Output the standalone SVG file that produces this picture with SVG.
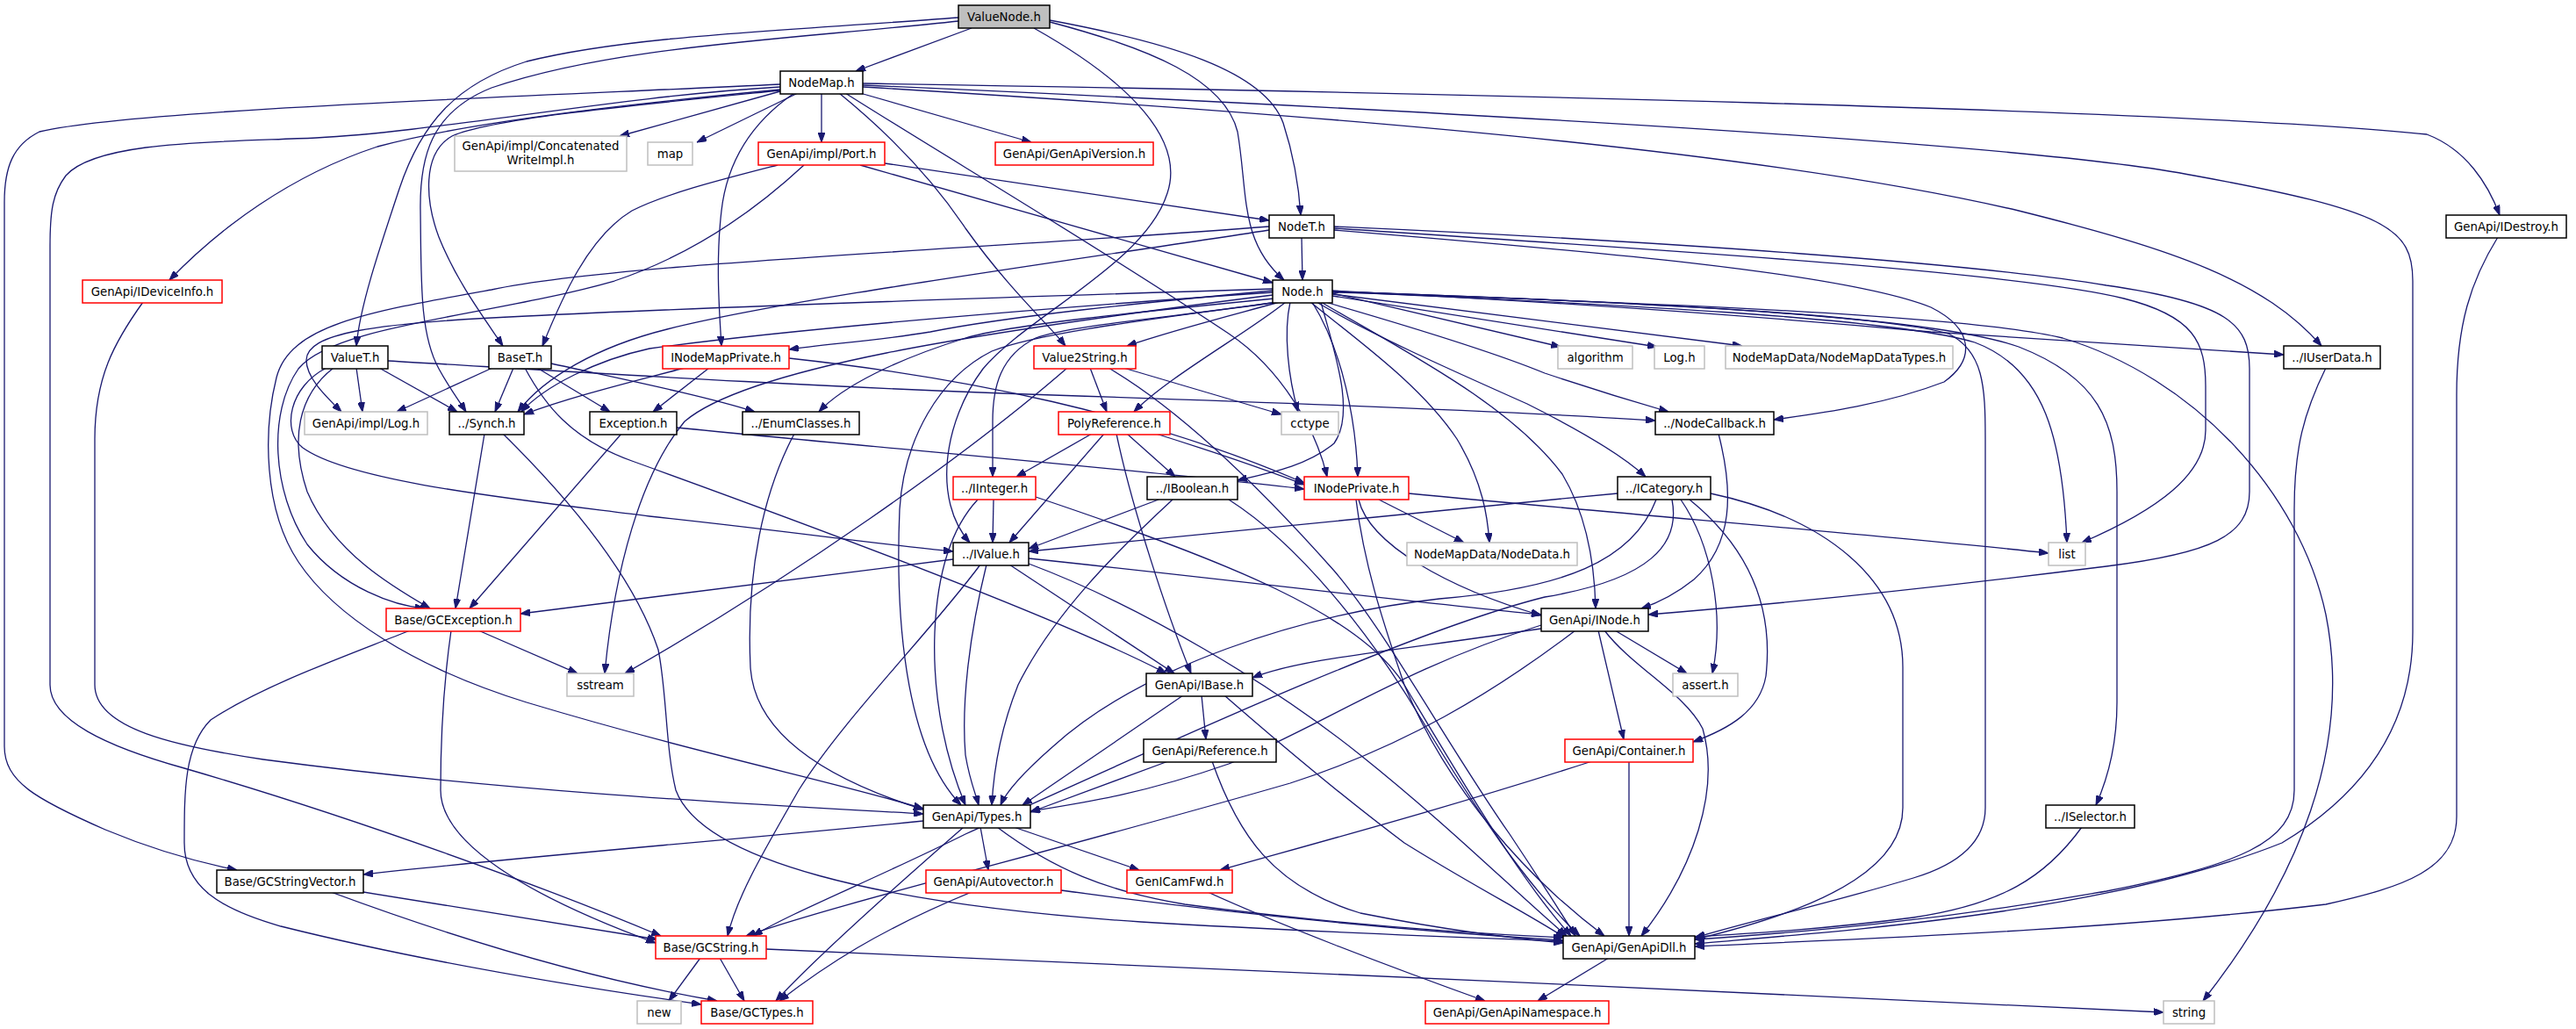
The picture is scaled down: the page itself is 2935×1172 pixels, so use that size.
<svg xmlns="http://www.w3.org/2000/svg" width="2935" height="1172" viewBox="0 0 2935 1172">
<defs>
<marker id="ah" viewBox="0 0 11 8" refX="11" refY="4" markerWidth="11" markerHeight="8" markerUnits="userSpaceOnUse" orient="auto"><path d="M0,0 L11,4 L0,8 z" fill="#191970" stroke="#191970" stroke-width="1"/></marker>
</defs>
<style>
rect{stroke-width:1.5;fill:#ffffff}
.n{stroke:#000000}
.r{stroke:#ff0000}
.g{stroke:#bfbfbf}
.root{stroke:#000000;fill:#bfbfbf}
text{font-family:"DejaVu Sans","Liberation Sans",sans-serif;font-size:13.3px;fill:#000000;text-anchor:middle}
#edges path{fill:none;stroke:#191970;stroke-width:1.3;marker-end:url(#ah)}
</style>
<rect x="0" y="0" width="2935" height="1172" style="fill:#ffffff;stroke:none"/>
<g id="edges">
<path d="M1107,32 L975,81"/>
<path d="M1178,32 C1290,95 1350,160 1330,220 C1305,300 1170,360 1120,420 C1075,480 1062,570 1105,618"/>
<path d="M1196,25 C1310,55 1395,90 1410,150 C1422,220 1412,275 1463,319"/>
<path d="M1196,23 C1330,48 1440,80 1462,140 C1475,180 1480,215 1482,245"/>
<path d="M1092,20 C900,35 720,40 600,70 C520,95 480,140 455,215 C430,290 410,350 406,394"/>
<path d="M1092,24 C900,45 700,52 560,100 C490,128 478,180 479,240 C480,320 478,380 500,420 C512,442 524,458 531,469"/>
<path d="M889,104 L706,155"/>
<path d="M909,106 L794,162"/>
<path d="M936,106 L936,162"/>
<path d="M980,106 L1175,162"/>
<path d="M905,106 C870,130 830,170 822,240 C815,300 820,360 822,394"/>
<path d="M956,106 C1010,150 1060,200 1100,260 C1150,330 1195,370 1214,394"/>
<path d="M963,106 C1080,180 1250,280 1400,380 C1460,420 1500,490 1512,543"/>
<path d="M889,96 C600,110 150,125 45,150 C15,165 5,190 5,230 L5,850 C5,890 40,910 120,945 C180,970 230,983 270,991"/>
<path d="M889,99 C700,110 500,150 360,157 C250,162 110,160 75,200 C60,220 57,240 57,280 L57,780 C57,820 120,850 210,875 C400,930 620,1010 753,1066"/>
<path d="M889,102 C700,120 530,140 430,167 C330,200 250,260 193,319"/>
<path d="M889,103 C720,120 560,135 515,155 C480,175 485,230 500,270 C520,320 550,360 573,394"/>
<path d="M983,97 C1500,120 2300,160 2500,200 C2720,240 2749,260 2749,320 L2749,720 C2749,820 2700,900 2600,960 C2400,1040 2100,1060 1931,1075"/>
<path d="M983,95 C1600,105 2500,125 2765,153 C2810,170 2835,210 2848,245"/>
<path d="M983,99 C1500,130 2000,170 2300,240 C2480,285 2580,320 2645,394"/>
<path d="M1008,186 L1446,251"/>
<path d="M980,188 L1450,322"/>
<path d="M886,188 C820,205 760,220 720,240 C670,270 640,340 618,394"/>
<path d="M916,188 C860,240 790,290 700,320 C560,360 380,370 340,420 C305,470 310,560 350,620 C390,670 450,690 484,693"/>
<path d="M1483,270 L1484,319"/>
<path d="M1446,258 C1100,285 700,300 560,330 C420,355 330,370 315,430 C300,490 300,580 340,640 C380,700 470,760 600,800 C800,860 950,890 1052,921"/>
<path d="M1446,262 C1200,300 900,340 760,375 C680,395 620,430 590,469"/>
<path d="M1520,258 C1900,275 2250,300 2400,325 C2540,345 2563,370 2563,420 L2563,560 C2563,610 2520,630 2400,645 C2200,670 2000,690 1878,700"/>
<path d="M1520,260 C1900,285 2300,310 2420,340 C2500,360 2513,390 2513,440 L2513,490 C2513,540 2460,580 2372,618"/>
<path d="M1520,262 C1800,285 2100,310 2200,350 C2250,375 2250,410 2215,435 C2150,460 2080,470 2021,478"/>
<path d="M1450,329 C1100,340 800,350 600,360 C420,368 350,380 349,410 C349,430 370,450 389,469"/>
<path d="M1450,333 C1200,350 900,375 740,397 C680,410 620,440 594,469"/>
<path d="M1450,331 C1300,345 1150,360 1060,378 C1000,388 940,392 899,398"/>
<path d="M1458,344 C1400,360 1340,375 1284,394"/>
<path d="M1452,340 C1300,355 1150,370 1100,385 C1020,410 960,440 933,469"/>
<path d="M1465,344 C1420,380 1330,430 1292,469"/>
<path d="M1455,344 C1350,360 1220,370 1180,385 C1140,405 1131,440 1131,480 L1131,543"/>
<path d="M1456,344 C1300,365 1180,380 1130,400 C1070,430 1030,500 1025,580 C1020,700 1030,850 1095,917"/>
<path d="M1505,344 C1520,400 1545,470 1520,505 C1490,530 1450,538 1410,547"/>
<path d="M1495,344 C1530,400 1545,480 1547,543"/>
<path d="M1470,344 C1462,380 1468,430 1479,469"/>
<path d="M1510,344 C1600,370 1700,400 1760,425 C1820,445 1870,460 1901,469"/>
<path d="M1500,344 C1560,380 1650,420 1740,460 C1800,490 1850,520 1875,543"/>
<path d="M1493,344 C1550,390 1620,440 1660,500 C1690,550 1695,590 1697,618"/>
<path d="M1505,344 C1600,400 1720,460 1780,540 C1810,590 1817,650 1818,693"/>
<path d="M1518,334 L1778,395"/>
<path d="M1518,337 L1888,395"/>
<path d="M1518,335 L1985,394"/>
<path d="M1518,331 C1800,345 2000,360 2200,378 C2400,390 2520,398 2602,404"/>
<path d="M1518,332 C1800,345 2150,360 2250,390 C2330,420 2350,500 2355,618"/>
<path d="M1518,333 C1900,345 2250,360 2350,385 C2500,430 2620,560 2650,700 C2680,850 2620,1000 2510,1140"/>
<path d="M1518,332 C1900,345 2200,360 2300,395 C2390,430 2412,480 2412,560 L2412,800 C2412,850 2400,890 2388,917"/>
<path d="M1518,332 C1900,345 2150,360 2220,380 C2260,400 2262,440 2262,500 L2262,920 C2262,960 2230,985 2180,1000 C2080,1030 1990,1050 1931,1068"/>
<path d="M1450,336 C1100,380 850,420 780,480 C730,540 700,650 689,767"/>
<path d="M406,419 L413,469"/>
<path d="M432,419 L521,469"/>
<path d="M380,419 C340,450 330,500 350,560 C380,630 450,670 490,693"/>
<path d="M442,411 C600,420 900,440 1200,450 C1500,460 1750,470 1886,479"/>
<path d="M372,419 C330,440 320,490 345,510 C400,550 600,570 740,588 C900,605 1000,620 1086,628"/>
<path d="M561,419 L452,469"/>
<path d="M585,419 L564,469"/>
<path d="M612,419 L695,469"/>
<path d="M628,414 C700,430 800,450 860,469"/>
<path d="M598,419 C620,460 650,500 720,525 C900,590 1200,700 1329,767"/>
<path d="M780,419 C720,435 650,452 597,472"/>
<path d="M808,419 L744,469"/>
<path d="M899,408 C1100,430 1300,470 1486,550"/>
<path d="M1242,419 L1261,469"/>
<path d="M1280,419 L1460,472"/>
<path d="M1216,419 C1100,520 900,660 712,767"/>
<path d="M1263,419 C1350,470 1440,560 1520,650 C1580,720 1650,850 1720,950 C1760,1010 1785,1050 1795,1066"/>
<path d="M1244,494 L1158,543"/>
<path d="M1258,494 L1150,618"/>
<path d="M1284,494 L1339,543"/>
<path d="M1272,494 C1290,580 1330,700 1357,767"/>
<path d="M1317,494 C1400,520 1450,538 1486,552"/>
<path d="M708,494 L535,693"/>
<path d="M771,487 C1000,510 1300,535 1486,557"/>
<path d="M905,494 C870,560 850,650 855,760 C860,840 950,890 1052,922"/>
<path d="M1958,494 C1975,560 1975,620 1930,660 C1905,680 1885,688 1870,693"/>
<path d="M1132,569 L1131,618"/>
<path d="M1114,569 C1085,600 1068,650 1065,720 C1062,800 1080,870 1100,917"/>
<path d="M1180,566 C1400,640 1550,700 1600,780 C1660,880 1730,1000 1790,1066"/>
<path d="M1320,569 L1172,625"/>
<path d="M1336,569 C1270,630 1200,700 1160,780 C1140,830 1132,880 1130,917"/>
<path d="M1400,569 C1480,620 1560,720 1620,820 C1680,920 1740,1010 1800,1066"/>
<path d="M1086,637 L593,699"/>
<path d="M1117,643 C1060,720 960,820 910,900 C870,970 840,1020 829,1066"/>
<path d="M1124,643 C1105,720 1095,800 1100,860 C1105,890 1112,905 1115,917"/>
<path d="M1150,643 L1338,767"/>
<path d="M1172,636 C1400,660 1600,685 1756,700"/>
<path d="M1172,642 C1300,690 1450,780 1550,860 C1650,940 1720,1010 1785,1066"/>
<path d="M1571,569 L1668,618"/>
<path d="M1605,562 C1900,590 2150,610 2334,630"/>
<path d="M1548,569 C1560,620 1650,670 1756,701"/>
<path d="M1545,569 C1555,650 1580,720 1600,780 C1650,900 1740,1000 1828,1066"/>
<path d="M1756,716 C1600,740 1480,750 1427,772"/>
<path d="M1795,718 C1700,790 1600,850 1470,892 C1200,970 950,1030 850,1066"/>
<path d="M1756,712 C1600,760 1500,830 1400,870 C1300,905 1230,915 1174,924"/>
<path d="M1840,718 L1922,767"/>
<path d="M1821,718 L1850,842"/>
<path d="M1828,718 C1860,760 1920,790 1940,830 C1960,900 1930,990 1870,1066"/>
<path d="M1843,562 C1600,585 1350,610 1172,628"/>
<path d="M1887,569 C1860,640 1780,670 1640,682 C1480,700 1300,760 1200,850 C1160,885 1145,905 1140,917"/>
<path d="M1905,569 C1915,620 1880,660 1760,680 C1600,720 1300,860 1100,950 C1000,1000 900,1040 858,1066"/>
<path d="M1915,569 C1950,620 1965,700 1951,767"/>
<path d="M1925,569 C2000,630 2020,700 2012,770 C2005,810 1970,830 1929,845"/>
<path d="M1949,562 C2080,590 2168,660 2168,760 L2168,920 C2168,980 2100,1030 1931,1070"/>
<path d="M1369,792 L1374,842"/>
<path d="M1348,792 L1165,917"/>
<path d="M1395,792 C1450,840 1520,900 1600,960 C1680,1010 1740,1040 1783,1068"/>
<path d="M1331,867 L1174,925"/>
<path d="M1381,867 C1410,950 1450,1010 1550,1040 C1650,1060 1720,1068 1781,1074"/>
<path d="M1856,867 L1856,1066"/>
<path d="M1814,867 C1650,920 1500,960 1390,991"/>
<path d="M1052,935 C800,960 600,975 414,996"/>
<path d="M1098,942 C1020,1010 930,1090 884,1140"/>
<path d="M1117,942 L1126,991"/>
<path d="M1155,942 L1298,991"/>
<path d="M1136,942 C1200,990 1260,1015 1350,1030 C1500,1050 1650,1062 1781,1068"/>
<path d="M1107,1016 C1000,1060 940,1100 888,1140"/>
<path d="M1209,1014 C1400,1040 1600,1060 1781,1071"/>
<path d="M1376,1016 C1450,1050 1580,1100 1692,1140"/>
<path d="M798,1091 L762,1140"/>
<path d="M820,1091 L848,1140"/>
<path d="M873,1081 C1300,1100 2000,1130 2465,1153"/>
<path d="M414,1016 L749,1070"/>
<path d="M377,1016 C550,1080 700,1120 817,1140"/>
<path d="M545,718 L658,767"/>
<path d="M514,718 C508,760 502,820 502,900 C502,960 600,1020 747,1074"/>
<path d="M467,718 C400,745 300,780 240,820 C210,850 210,900 210,960 C210,1010 250,1035 320,1055 C500,1100 700,1130 799,1144"/>
<path d="M552,494 L519,693"/>
<path d="M573,494 C640,560 720,650 750,740 C760,790 758,850 770,900 C800,980 1000,1030 1300,1050 C1500,1062 1680,1068 1781,1072"/>
<path d="M163,344 C130,390 108,430 108,500 L108,780 C108,830 200,850 300,865 C600,905 900,918 1052,927"/>
<path d="M2846,270 C2815,320 2799,370 2799,450 L2799,930 C2799,990 2740,1010 2650,1030 C2400,1060 2100,1070 1931,1078"/>
<path d="M2650,419 C2625,470 2614,510 2614,580 L2614,900 C2614,960 2550,985 2400,1015 C2200,1050 2050,1062 1931,1070"/>
<path d="M2372,942 C2330,1000 2280,1030 2180,1045 C2080,1058 2000,1063 1931,1067"/>
<path d="M1833,1091 L1752,1140"/>
</g>
<g id="n_ValueNode"><rect class="root" x="1092" y="6" width="104" height="26"/><text x="1144" y="23.5">ValueNode.h</text></g>
<g id="n_NodeMap"><rect class="n" x="889" y="81" width="94" height="26"/><text x="936" y="98.5">NodeMap.h</text></g>
<g id="n_ConcatenatedWriteImpl"><rect class="g" x="518" y="155" width="196" height="40"/><text x="616" y="171">GenApi/impl/Concatenated</text><text x="616" y="187">WriteImpl.h</text></g>
<g id="n_map"><rect class="g" x="738" y="162" width="51" height="26"/><text x="763.5" y="179.5">map</text></g>
<g id="n_Port"><rect class="r" x="864" y="162" width="144" height="26"/><text x="936" y="179.5">GenApi/impl/Port.h</text></g>
<g id="n_GenApiVersion"><rect class="r" x="1134" y="162" width="180" height="26"/><text x="1224" y="179.5">GenApi/GenApiVersion.h</text></g>
<g id="n_NodeT"><rect class="n" x="1446" y="245" width="74" height="26"/><text x="1483" y="262.5">NodeT.h</text></g>
<g id="n_IDestroy"><rect class="n" x="2787" y="245" width="137" height="26"/><text x="2855.5" y="262.5">GenApi/IDestroy.h</text></g>
<g id="n_IDeviceInfo"><rect class="r" x="94" y="319" width="159" height="26"/><text x="173.5" y="336.5">GenApi/IDeviceInfo.h</text></g>
<g id="n_Node"><rect class="n" x="1450" y="319" width="68" height="26"/><text x="1484" y="336.5">Node.h</text></g>
<g id="n_ValueT"><rect class="n" x="367" y="394" width="75" height="26"/><text x="404.5" y="411.5">ValueT.h</text></g>
<g id="n_BaseT"><rect class="n" x="557" y="394" width="71" height="26"/><text x="592.5" y="411.5">BaseT.h</text></g>
<g id="n_INodeMapPrivate"><rect class="r" x="755" y="394" width="144" height="26"/><text x="827" y="411.5">INodeMapPrivate.h</text></g>
<g id="n_Value2String"><rect class="r" x="1178" y="394" width="116" height="26"/><text x="1236" y="411.5">Value2String.h</text></g>
<g id="n_algorithm"><rect class="g" x="1775" y="394" width="85" height="26"/><text x="1817.5" y="411.5">algorithm</text></g>
<g id="n_LogH"><rect class="g" x="1885" y="394" width="57" height="26"/><text x="1913.5" y="411.5">Log.h</text></g>
<g id="n_NodeMapDataTypes"><rect class="g" x="1966" y="394" width="259" height="26"/><text x="2095.5" y="411.5">NodeMapData/NodeMapDataTypes.h</text></g>
<g id="n_IUserData"><rect class="n" x="2602" y="394" width="110" height="26"/><text x="2657" y="411.5">../IUserData.h</text></g>
<g id="n_ImplLog"><rect class="g" x="347" y="469" width="140" height="26"/><text x="417" y="486.5">GenApi/impl/Log.h</text></g>
<g id="n_Synch"><rect class="n" x="512" y="469" width="85" height="26"/><text x="554.5" y="486.5">../Synch.h</text></g>
<g id="n_Exception"><rect class="n" x="672" y="469" width="99" height="26"/><text x="721.5" y="486.5">Exception.h</text></g>
<g id="n_EnumClasses"><rect class="n" x="846" y="469" width="133" height="26"/><text x="912.5" y="486.5">../EnumClasses.h</text></g>
<g id="n_PolyReference"><rect class="r" x="1206" y="469" width="127" height="26"/><text x="1269.5" y="486.5">PolyReference.h</text></g>
<g id="n_cctype"><rect class="g" x="1460" y="469" width="65" height="26"/><text x="1492.5" y="486.5">cctype</text></g>
<g id="n_NodeCallback"><rect class="n" x="1886" y="469" width="135" height="26"/><text x="1953.5" y="486.5">../NodeCallback.h</text></g>
<g id="n_IInteger"><rect class="r" x="1086" y="543" width="94" height="26"/><text x="1133" y="560.5">../IInteger.h</text></g>
<g id="n_IBoolean"><rect class="n" x="1307" y="543" width="103" height="26"/><text x="1358.5" y="560.5">../IBoolean.h</text></g>
<g id="n_INodePrivate"><rect class="r" x="1486" y="543" width="119" height="26"/><text x="1545.5" y="560.5">INodePrivate.h</text></g>
<g id="n_ICategory"><rect class="n" x="1843" y="543" width="106" height="26"/><text x="1896" y="560.5">../ICategory.h</text></g>
<g id="n_IValue"><rect class="n" x="1086" y="618" width="86" height="26"/><text x="1129" y="635.5">../IValue.h</text></g>
<g id="n_NodeData"><rect class="g" x="1603" y="618" width="194" height="26"/><text x="1700" y="635.5">NodeMapData/NodeData.h</text></g>
<g id="n_list"><rect class="g" x="2334" y="618" width="42" height="26"/><text x="2355" y="635.5">list</text></g>
<g id="n_GCException"><rect class="r" x="440" y="693" width="153" height="26"/><text x="516.5" y="710.5">Base/GCException.h</text></g>
<g id="n_INode"><rect class="n" x="1756" y="693" width="122" height="26"/><text x="1817" y="710.5">GenApi/INode.h</text></g>
<g id="n_sstream"><rect class="g" x="646" y="767" width="76" height="26"/><text x="684" y="784.5">sstream</text></g>
<g id="n_IBase"><rect class="n" x="1306" y="767" width="121" height="26"/><text x="1366.5" y="784.5">GenApi/IBase.h</text></g>
<g id="n_assert"><rect class="g" x="1906" y="767" width="74" height="26"/><text x="1943" y="784.5">assert.h</text></g>
<g id="n_Reference"><rect class="n" x="1303" y="842" width="151" height="26"/><text x="1378.5" y="859.5">GenApi/Reference.h</text></g>
<g id="n_Container"><rect class="r" x="1783" y="842" width="146" height="26"/><text x="1856" y="859.5">GenApi/Container.h</text></g>
<g id="n_Types"><rect class="n" x="1052" y="917" width="122" height="26"/><text x="1113" y="934.5">GenApi/Types.h</text></g>
<g id="n_ISelector"><rect class="n" x="2331" y="917" width="101" height="26"/><text x="2381.5" y="934.5">../ISelector.h</text></g>
<g id="n_GCStringVector"><rect class="n" x="247" y="991" width="167" height="26"/><text x="330.5" y="1008.5">Base/GCStringVector.h</text></g>
<g id="n_Autovector"><rect class="r" x="1055" y="991" width="154" height="26"/><text x="1132" y="1008.5">GenApi/Autovector.h</text></g>
<g id="n_GenICamFwd"><rect class="r" x="1284" y="991" width="120" height="26"/><text x="1344" y="1008.5">GenICamFwd.h</text></g>
<g id="n_GCString"><rect class="r" x="747" y="1066" width="126" height="26"/><text x="810" y="1083.5">Base/GCString.h</text></g>
<g id="n_GenApiDll"><rect class="n" x="1781" y="1066" width="150" height="26"/><text x="1856" y="1083.5">GenApi/GenApiDll.h</text></g>
<g id="n_new"><rect class="g" x="726" y="1140" width="50" height="26"/><text x="751" y="1157.5">new</text></g>
<g id="n_GCTypes"><rect class="r" x="799" y="1140" width="127" height="26"/><text x="862.5" y="1157.5">Base/GCTypes.h</text></g>
<g id="n_GenApiNamespace"><rect class="r" x="1624" y="1140" width="209" height="26"/><text x="1728.5" y="1157.5">GenApi/GenApiNamespace.h</text></g>
<g id="n_string"><rect class="g" x="2465" y="1140" width="58" height="26"/><text x="2494" y="1157.5">string</text></g>
</svg>
